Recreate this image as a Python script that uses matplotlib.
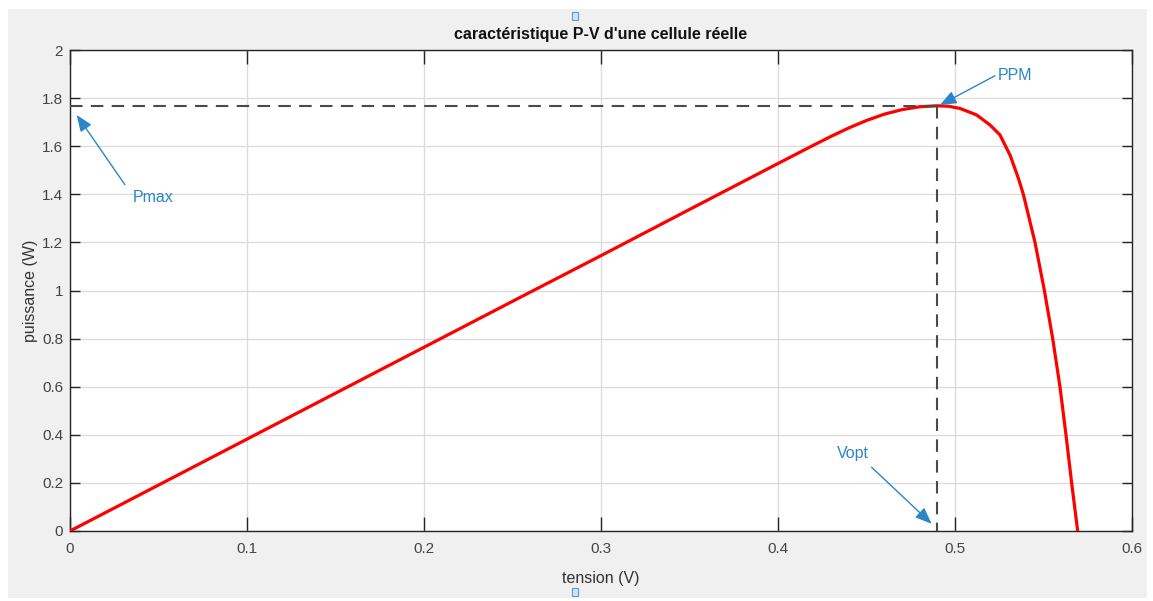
import matplotlib
matplotlib.use("Agg")
import matplotlib.pyplot as plt
from matplotlib.patches import Rectangle

plt.rcParams['font.family'] = ['Liberation Sans Narrow', 'Liberation Sans', 'DejaVu Sans']

# points (tension V, puissance W)
tension = [0.0, 0.05, 0.10, 0.15, 0.20, 0.25, 0.30, 0.35, 0.40, 0.41, 0.42, 0.43,
           0.44, 0.45, 0.46, 0.47, 0.48, 0.49, 0.4965, 0.5028, 0.5122, 0.5198,
           0.5254, 0.5311, 0.5358, 0.5386, 0.5452, 0.5505, 0.5552, 0.5593,
           0.5627, 0.5659, 0.5693]
puissance = [0.0, 0.191, 0.382, 0.573, 0.764, 0.955, 1.145, 1.337, 1.528, 1.566,
             1.604, 1.641, 1.676, 1.707, 1.733, 1.752, 1.764, 1.768, 1.766, 1.757,
             1.730, 1.688, 1.647, 1.563, 1.467, 1.400, 1.200, 1.000, 0.800, 0.600,
             0.400, 0.200, 0.0]

v_opt = 0.49
p_max = 1.768

x_ticks = [0, 0.1, 0.2, 0.3, 0.4, 0.5, 0.6]
y_ticks = [0, 0.2, 0.4, 0.6, 0.8, 1, 1.2, 1.4, 1.6, 1.8, 2]

blue = '#2a86c8'
dark = '#262626'

fig = plt.figure(figsize=(11.53, 6.01), dpi=100, facecolor='white')
fig.patches.append(Rectangle((8 / 1153, 3 / 601), 1139 / 1153, 589 / 601,
                             transform=fig.transFigure, facecolor='#f0f0f0',
                             edgecolor='none', zorder=-10))

ax = fig.add_axes([70 / 1153, 70 / 601, 1062 / 1153, 481 / 601])
ax.set_facecolor('white')

ax.plot(tension, puissance, color='red', lw=2.3, zorder=3,
        solid_joinstyle='round', solid_capstyle='butt')
ax.plot([0, v_opt], [p_max, p_max], color='#4a4a4a', lw=1.5, dashes=(6, 4), zorder=4)
ax.plot([v_opt, v_opt], [p_max, 0], color='#4a4a4a', lw=1.5, dashes=(6, 4), zorder=4)

ax.set_xlim(0, 0.6)
ax.set_ylim(0, 2)
ax.set_xticks(x_ticks)
ax.set_xticklabels(['0', '0.1', '0.2', '0.3', '0.4', '0.5', '0.6'])
ax.set_yticks(y_ticks)
ax.set_yticklabels(['0', '0.2', '0.4', '0.6', '0.8', '1', '1.2', '1.4', '1.6', '1.8', '2'])
ax.grid(True, color='#dcdcdc', lw=1)
ax.set_axisbelow(True)

ax.tick_params(axis='x', direction='in', length=10, width=1, color=dark,
               labelsize=11, labelcolor='#444444', top=True, pad=8)
ax.tick_params(axis='y', direction='in', length=7.5, width=1, color=dark,
               labelsize=11, labelcolor='#444444', right=True, pad=5)
for s in ax.spines.values():
    s.set_color(dark)
    s.set_linewidth(1)

ax.set_title("caractéristique P-V d'une cellule réelle", fontsize=11.5,
             fontweight='bold', color='#111111', pad=8)
ax.set_xlabel('tension (V)', fontsize=11.5, color='#333333', labelpad=11)
ax.set_ylabel('puissance (W)', fontsize=11.5, color='#333333', labelpad=3)

arrow = dict(arrowstyle='-|>,head_length=1.0,head_width=0.4', color=blue,
             lw=1, shrinkA=0, shrinkB=0)
ax.annotate('', xy=(0.0038, 1.73), xytext=(0.031, 1.44), arrowprops=arrow)
ax.text(0.0355, 1.385, 'Pmax', color=blue, fontsize=11.5, va='center', ha='left')

ax.annotate('', xy=(0.4915, 1.771), xytext=(0.5226, 1.893), arrowprops=arrow)
ax.text(0.524, 1.895, 'PPM', color=blue, fontsize=11.5, va='center', ha='left')

ax.annotate('', xy=(0.4868, 0.03), xytext=(0.4529, 0.265), arrowprops=arrow)
ax.text(0.4335, 0.324, 'Vopt', color=blue, fontsize=11.5, va='center', ha='left')

# small selection handles left on the title and the x label
for y in (12, 588):
    fig.patches.append(Rectangle((572 / 1153, (601 - y - 8) / 601), 6 / 1153, 8 / 601,
                                 transform=fig.transFigure, facecolor='#cfe3f5',
                                 edgecolor='#5b9bd5', lw=0.8, zorder=5))

fig.savefig('out.png', dpi=100, facecolor=fig.get_facecolor())
